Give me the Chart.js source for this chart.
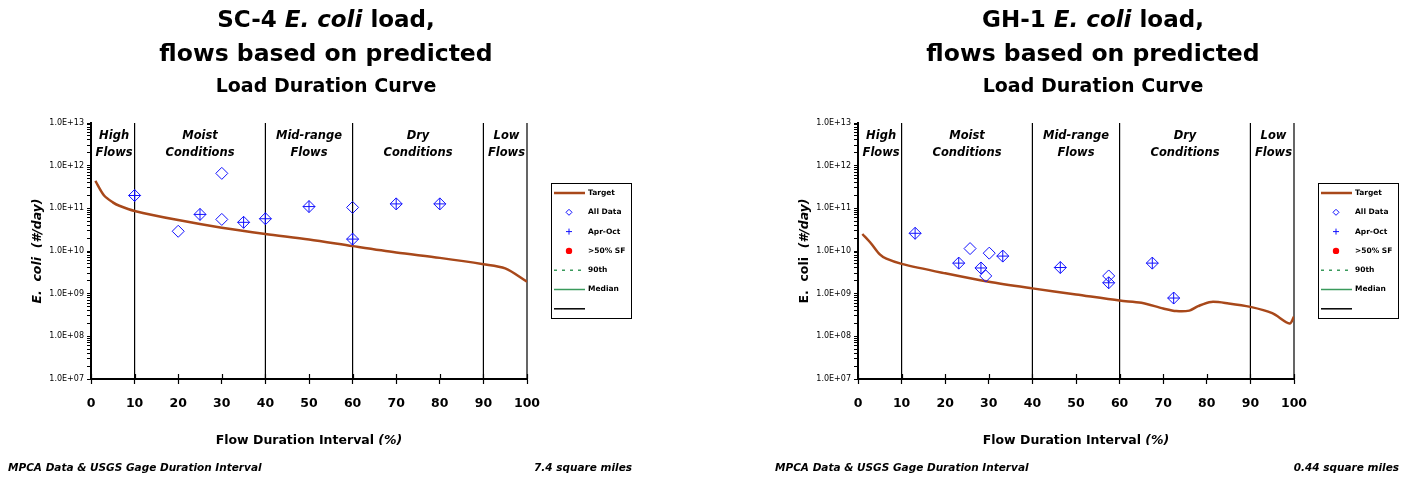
<!DOCTYPE html>
<html>
<head>
<meta charset="utf-8">
<script src="https://cdn.jsdelivr.net/npm/chart.js@4.4.1/dist/chart.umd.min.js"></script>
<style>
    html, body { margin: 0; padding: 0; background: #fff; }
    .panel { position: absolute; top: 0; width: 646px; height: 481px; }
</style>
</head>
<body>
<div class="panel" style="left:0"><canvas id="chartSC4" width="646" height="481"></canvas></div>
<div class="panel" style="left:767px"><canvas id="chartGH1" width="646" height="481"></canvas></div>
<script>
// Flow zones (shared by both charts)
const zoneDividers = [10, 40, 60, 90, 100];
const zoneCenters = [5.3, 25, 50, 75, 95.3];
const zoneLine1 = ['High', 'Moist', 'Mid-range', 'Dry', 'Low'];
const zoneLine2 = ['Flows', 'Conditions', 'Flows', 'Conditions', 'Flows'];

// SC-4 target curve and samples
const sc4TargetX = [1, 3, 5, 6.5, 10, 20, 30, 40, 50, 60, 70, 80, 90, 95, 100];
const sc4TargetY = [4.4e11, 2.0e11, 1.38e11, 1.15e11, 8.7e10, 5.3e10, 3.5e10, 2.5e10, 1.87e10, 1.3e10, 9.2e9, 6.9e9, 4.9e9, 3.9e9, 1.9e9];
const sc4AllX = [10, 20, 25, 30, 30, 35, 40, 50, 60, 60, 70, 80];
const sc4AllY = [2.0e11, 2.9e10, 7.2e10, 6.6e11, 5.5e10, 4.7e10, 5.7e10, 1.1e11, 1.05e11, 1.9e10, 1.27e11, 1.27e11];
const sc4AprOctX = [10, 25, 35, 40, 50, 60, 70, 80];
const sc4AprOctY = [2.0e11, 7.2e10, 4.7e10, 5.7e10, 1.1e11, 1.9e10, 1.27e11, 1.27e11];

// GH-1 target curve and samples
const gh1TargetX = [1, 3, 5, 6.5, 10, 20, 30, 40, 50, 60, 65, 70, 73, 76, 78, 81, 85, 90, 95, 99, 100];
const gh1TargetY = [2.5e10, 1.5e10, 8.3e9, 6.6e9, 5.0e9, 3.0e9, 1.9e9, 1.33e9, 9.6e8, 6.9e8, 6.1e8, 4.5e8, 3.9e8, 4.0e8, 5.1e8, 6.4e8, 5.9e8, 4.9e8, 3.5e8, 2.0e8, 2.9e8];
const gh1AllX = [13.1, 23.1, 25.7, 28.2, 29.3, 30.1, 33.2, 46.4, 57.5, 57.5, 67.5, 72.4];
const gh1AllY = [2.6e10, 5.2e9, 1.14e10, 4.0e9, 2.6e9, 8.9e9, 7.6e9, 4.1e9, 2.6e9, 1.8e9, 5.2e9, 7.9e8];
const gh1AprOctX = [13.1, 23.1, 28.2, 33.2, 46.4, 57.5, 67.5, 72.4];
const gh1AprOctY = [2.6e10, 5.2e9, 4.0e9, 7.6e9, 4.1e9, 1.8e9, 5.2e9, 7.9e8];

const legendLabels = ['Target', 'All Data', 'Apr-Oct', '>50% SF', '90th', 'Median', ''];

const FONT = '"DejaVu Sans", sans-serif';
const BROWN = '#A8481A';
const BLUE = '#1010FF';
const GREEN = '#3A9A5C';

// Texts that are not part of Chart.js options
const chartTexts = {
    chartSC4: {
        site: 'SC-4 ',
        yTitleItalic: true,
        area: '7.4 square miles'
    },
    chartGH1: {
        site: 'GH-1 ',
        yTitleItalic: false,
        area: '0.44 square miles'
    }
};

function toPoints(xs, ys) {
    return xs.map((x, i) => ({ x: x, y: ys[i] }));
}

function dividerPoints() {
    const pts = [];
    zoneDividers.forEach(d => {
        pts.push({ x: d, y: 1e7 }, { x: d, y: 1e13 }, { x: d, y: null });
    });
    return pts;
}

// Draw a line of text built from runs with different fonts
function drawRuns(ctx, runs, x, y, align) {
    let total = 0;
    runs.forEach(r => { ctx.font = r.font; total += ctx.measureText(r.text).width; });
    let cx = align === 'center' ? x - total / 2 : (align === 'right' ? x - total : x);
    ctx.textAlign = 'left';
    runs.forEach(r => {
        ctx.font = r.font;
        ctx.fillText(r.text, cx, y);
        cx += ctx.measureText(r.text).width;
    });
}

const decorPlugin = {
    id: 'decor',
    afterDraw(chart) {
        const ctx = chart.ctx;
        const t = chartTexts[chart.canvas.id];
        const xs = chart.scales.x;
        const area = chart.chartArea;
        ctx.save();
        ctx.fillStyle = '#000';
        ctx.textBaseline = 'middle';

        // Title
        drawRuns(ctx, [
            { text: t.site, font: 'bold 23px ' + FONT },
            { text: 'E. coli', font: 'italic bold 23px ' + FONT },
            { text: ' load,', font: 'bold 23px ' + FONT }
        ], 326, 21, 'center');
        drawRuns(ctx, [{ text: 'flows based on predicted', font: 'bold 23.5px ' + FONT }], 326, 55, 'center');
        drawRuns(ctx, [{ text: 'Load Duration Curve', font: 'bold 19px ' + FONT }], 326, 87, 'center');

        // Zone labels
        ctx.font = 'italic bold 11.5px ' + FONT;
        ctx.textAlign = 'center';
        zoneCenters.forEach((c, i) => {
            const px = xs.getPixelForValue(c);
            ctx.fillText(zoneLine1[i], px, area.top + 13);
            ctx.fillText(zoneLine2[i], px, area.top + 30);
        });

        // X ticks cross the axis line
        ctx.strokeStyle = '#000';
        ctx.lineWidth = 1.2;
        xs.ticks.forEach(tk => {
            const px = Math.round(xs.getPixelForValue(tk.value)) + 0.5;
            ctx.beginPath();
            ctx.moveTo(px, area.bottom - 5);
            ctx.lineTo(px, area.bottom);
            ctx.stroke();
        });

        // Axis titles
        ctx.save();
        ctx.translate(38, (area.top + area.bottom) / 2);
        ctx.rotate(-Math.PI / 2);
        const ef = (t.yTitleItalic ? 'italic ' : '') + 'bold 12.5px ' + FONT;
        drawRuns(ctx, [
            { text: 'E.  coli  ', font: ef },
            { text: '(#/day)', font: 'italic bold 12.5px ' + FONT }
        ], 0, 0, 'center');
        ctx.restore();
        drawRuns(ctx, [
            { text: 'Flow Duration Interval ', font: 'bold 12.5px ' + FONT },
            { text: '(%)', font: 'italic bold 12.5px ' + FONT }
        ], (area.left + area.right) / 2, 441, 'center');

        // Footer
        drawRuns(ctx, [{ text: 'MPCA Data & USGS Gage Duration Interval', font: 'italic bold 10.5px ' + FONT }], 8, 468, 'left');
        drawRuns(ctx, [{ text: t.area, font: 'italic bold 10.5px ' + FONT }], 632, 468, 'right');

        // Legend box
        const lx = 551, ly = 183, lw = 80, lh = 135;
        ctx.strokeStyle = '#000';
        ctx.lineWidth = 1;
        ctx.strokeRect(lx + 0.5, ly + 0.5, lw, lh);
        ctx.font = 'bold 7.5px ' + FONT;
        ctx.textAlign = 'left';
        legendLabels.forEach((label, i) => {
            const iy = ly + 10 + i * 19.3;
            const sx = lx + 18;
            ctx.setLineDash([]);
            if (i === 0 || i === 4 || i === 5 || i === 6) {
                ctx.strokeStyle = i === 0 ? BROWN : (i === 6 ? '#000' : GREEN);
                ctx.lineWidth = i === 0 ? 2.5 : 1.5;
                if (i === 4) ctx.setLineDash([3, 5]);
                ctx.beginPath();
                ctx.moveTo(lx + 3, iy);
                ctx.lineTo(lx + 34, iy);
                ctx.stroke();
            } else if (i === 1) {
                ctx.strokeStyle = BLUE;
                ctx.lineWidth = 1;
                ctx.beginPath();
                ctx.moveTo(sx - 3, iy); ctx.lineTo(sx, iy - 3); ctx.lineTo(sx + 3, iy); ctx.lineTo(sx, iy + 3);
                ctx.closePath();
                ctx.stroke();
            } else if (i === 2) {
                ctx.strokeStyle = BLUE;
                ctx.lineWidth = 1;
                ctx.beginPath();
                ctx.moveTo(sx - 3, iy); ctx.lineTo(sx + 3, iy);
                ctx.moveTo(sx, iy - 3); ctx.lineTo(sx, iy + 3);
                ctx.stroke();
            } else if (i === 3) {
                ctx.fillStyle = '#FF0000';
                ctx.beginPath();
                ctx.arc(sx, iy, 3.2, 0, Math.PI * 2);
                ctx.fill();
                ctx.fillStyle = '#000';
            }
            ctx.fillText(label, lx + 37, iy);
        });
        ctx.restore();
    }
};

function yTickLabel(v) {
    const lg = Math.log10(v);
    const e = Math.round(lg);
    if (Math.abs(lg - e) > 1e-6) return '';
    return '1.0E+' + String(e).padStart(2, '0');
}

function makeChart(canvasId, targetX, targetY, allX, allY, aprX, aprY) {
    const ctx = document.getElementById(canvasId).getContext('2d');
    return new Chart(ctx, {
        type: 'scatter',
        data: {
            datasets: [
                {
                    label: 'Apr-Oct',
                    data: toPoints(aprX, aprY),
                    pointStyle: 'cross',
                    pointRadius: 6,
                    borderColor: BLUE,
                    borderWidth: 1,
                    backgroundColor: 'transparent'
                },
                {
                    label: 'All Data',
                    data: toPoints(allX, allY),
                    pointStyle: 'rectRot',
                    pointRadius: 6,
                    borderColor: BLUE,
                    borderWidth: 1,
                    backgroundColor: 'transparent'
                },
                {
                    label: 'Target',
                    data: toPoints(targetX, targetY),
                    showLine: true,
                    pointRadius: 0,
                    borderColor: BROWN,
                    borderWidth: 2.5,
                    tension: 0.3,
                    fill: false
                },
                {
                    label: '',
                    data: dividerPoints(),
                    showLine: true,
                    spanGaps: false,
                    clip: false,
                    pointRadius: 0,
                    borderColor: '#000',
                    borderWidth: 1.2
                }
            ]
        },
        options: {
            responsive: false,
            animation: false,
            events: [],
            layout: {
                padding: { top: 123, right: 119, bottom: 62, left: 0 }
            },
            scales: {
                x: {
                    type: 'linear',
                    min: 0,
                    max: 100,
                    afterFit: scale => { scale.height = 40; },
                    ticks: {
                        stepSize: 10,
                        color: '#000',
                        padding: 12,
                        maxRotation: 0,
                        font: { family: FONT, size: 12.5, weight: 'bold' }
                    },
                    grid: {
                        drawOnChartArea: false,
                        drawTicks: true,
                        tickLength: 5,
                        tickColor: '#000',
                        tickWidth: 1.2
                    },
                    border: { color: '#000', width: 2 }
                },
                y: {
                    type: 'logarithmic',
                    min: 1e7,
                    max: 1e13,
                    afterFit: scale => { scale.width = 91; },
                    afterBuildTicks: scale => {
                        const ticks = [];
                        for (let e = 7; e < 13; e++) {
                            for (let m = 1; m < 10; m++) ticks.push({ value: m * Math.pow(10, e) });
                        }
                        ticks.push({ value: 1e13 });
                        scale.ticks = ticks;
                    },
                    ticks: {
                        autoSkip: false,
                        color: '#000',
                        padding: 3,
                        font: { family: FONT, size: 8 },
                        callback: v => yTickLabel(v)
                    },
                    grid: {
                        drawOnChartArea: false,
                        drawTicks: true,
                        tickLength: 4,
                        tickColor: '#000',
                        tickWidth: 1
                    },
                    border: { color: '#000', width: 2 }
                }
            },
            plugins: {
                legend: { display: false },
                tooltip: { enabled: false },
                title: { display: false }
            }
        },
        plugins: [decorPlugin]
    });
}

document.addEventListener('DOMContentLoaded', function() {
    makeChart('chartSC4', sc4TargetX, sc4TargetY, sc4AllX, sc4AllY, sc4AprOctX, sc4AprOctY);
    makeChart('chartGH1', gh1TargetX, gh1TargetY, gh1AllX, gh1AllY, gh1AprOctX, gh1AprOctY);
});
</script>
</body>
</html>
